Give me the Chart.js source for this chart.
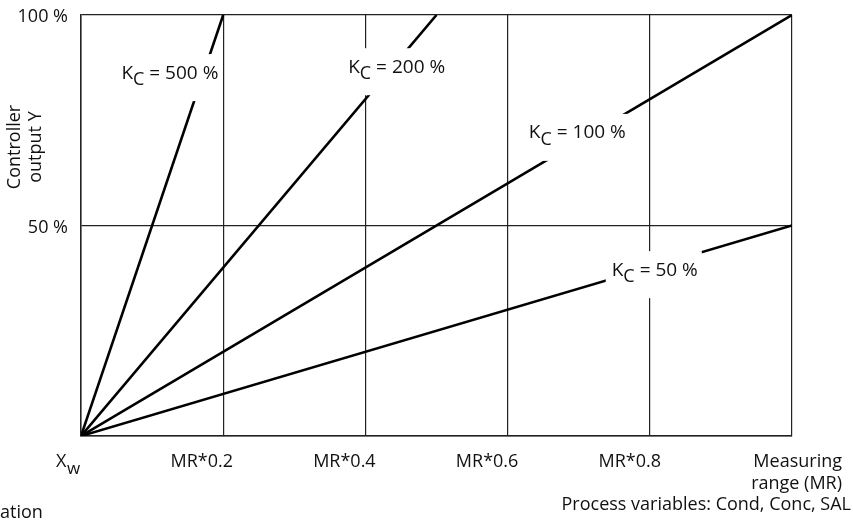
<!DOCTYPE html>
<html lang="en">
<head>
    <meta charset="UTF-8">
    <title>Controller output Y</title>
    <script src="https://cdn.jsdelivr.net/npm/chart.js"></script>
    <style>
        html, body { margin: 0; padding: 0; background: #fff; }
        #wrap { width: 853px; height: 526px; position: relative; }
    </style>
</head>
<body>
    <div id="wrap"><canvas id="ctrlChart"></canvas></div>

    <script>
        // data
        const gains = ["500", "200", "100", "50"];          // K_C in %
        const xStart = [0, 0, 0, 0];                        // X_w
        const xEnd = [0.2, 0.5, 1.0, 1.0];                  // fraction of MR
        const yEnd = [100, 100, 100, 50];                   // controller output %
        const xTicks = [0, 0.2, 0.4, 0.6, 0.8, 1.0];
        const xTickLabels = ["X", "MR*0.2", "MR*0.4", "MR*0.6", "MR*0.8", "Measuring"];
        const yTicks = [0, 50, 100];
        const yTickLabels = ["", "50 %", "100 %"];
        // label anchors (data coords) for each K_C line
        const labelX = [0.125, 0.444, 0.698, 0.807];
        const labelY = [86.2, 87.6, 72, 39.4];

        const FONT = "'Open Sans', 'Noto Sans', sans-serif";

        const datasets = gains.map((g, i) => ({
            label: "K_C = " + g + " %",
            data: [{ x: xStart[i], y: 0 }, { x: xEnd[i], y: yEnd[i] }],
            showLine: true,
            borderColor: "#000",
            borderWidth: 2.6,
            pointRadius: 0,
            fill: false
        }));

        const textPlugin = {
            id: "textPlugin",
            afterDatasetsDraw(chart) {
                const ctx = chart.ctx;
                const xs = chart.scales.x, ys = chart.scales.y;
                ctx.save();
                ctx.fillStyle = "#111";

                // line labels on white boxes
                gains.forEach((g, i) => {
                    const cx = xs.getPixelForValue(labelX[i]);
                    const cy = ys.getPixelForValue(labelY[i]);
                    ctx.font = "19px " + FONT;
                    const wK = ctx.measureText("K").width;
                    ctx.font = "18px " + FONT;
                    const wC = ctx.measureText("C").width;
                    ctx.font = "19px " + FONT;
                    const rest = " = " + g + " %";
                    const wR = ctx.measureText(rest).width;
                    const w = wK + wC + wR;
                    const left = cx - w / 2;
                    const padR = i === 2 ? 20 : 4;
                    ctx.fillStyle = "#fff";
                    ctx.fillRect(left - 6, cy - 19, w + 6 + padR, 47);
                    ctx.fillStyle = "#111";
                    ctx.textBaseline = "middle";
                    ctx.textAlign = "left";
                    ctx.fillText("K", left, cy);
                    ctx.font = "18px " + FONT;
                    ctx.fillText("C", left + wK, cy + 7);
                    ctx.font = "19px " + FONT;
                    ctx.fillText(rest, left + wK + wC, cy);
                });

                // y tick labels
                ctx.font = "18px " + FONT;
                ctx.textAlign = "right";
                ctx.textBaseline = "middle";
                yTicks.forEach((v, i) => {
                    if (yTickLabels[i]) ctx.fillText(yTickLabels[i], 68, ys.getPixelForValue(v) + 2);
                });

                // x tick labels
                ctx.textAlign = "center";
                const ty = 462;
                xTicks.forEach((v, i) => {
                    const px = xs.getPixelForValue(v);
                    if (i === 0) {
                        ctx.textAlign = "left";
                        ctx.fillText("X", 56, ty);
                        ctx.font = "17px " + FONT;
                        ctx.fillText("w", 67, ty + 7);
                        ctx.font = "18px " + FONT;
                        ctx.textAlign = "center";
                    } else if (i === xTicks.length - 1) {
                        ctx.textAlign = "right";
                        ctx.fillText(xTickLabels[i], 842, ty);
                        ctx.fillText("range (MR)", 842, ty + 22);
                        ctx.fillText("Process variables: Cond, Conc, SAL", 851, ty + 43);
                        ctx.textAlign = "center";
                    } else {
                        ctx.fillText(xTickLabels[i], px - 22 + i * 0.5, ty);
                    }
                });

                // cut-off caption at bottom left
                ctx.textAlign = "left";
                ctx.fillText("ation", 0, 513);

                // y axis title
                ctx.save();
                ctx.translate(15, 147);
                ctx.rotate(-Math.PI / 2);
                ctx.textAlign = "center";
                ctx.textBaseline = "middle";
                ctx.fillText("Controller", 0, 0);
                ctx.fillText("output Y", 0, 21);
                ctx.restore();

                ctx.restore();
            }
        };

        new Chart(document.getElementById("ctrlChart"), {
            type: "scatter",
            data: { datasets: datasets },
            options: {
                responsive: true,
                maintainAspectRatio: false,
                animation: false,
                layout: { padding: { left: 81, right: 61, top: 15, bottom: 90 } },
                plugins: { legend: { display: false }, tooltip: { enabled: false } },
                scales: {
                    x: {
                        type: "linear",
                        min: 0, max: 1,
                        afterBuildTicks: s => { s.ticks = xTicks.map(v => ({ value: v })); },
                        ticks: { display: false },
                        grid: { color: "#222", lineWidth: 1.2, drawTicks: false },
                        border: { color: "#222", width: 1.5 }
                    },
                    y: {
                        min: 0, max: 100,
                        afterBuildTicks: s => { s.ticks = yTicks.map(v => ({ value: v })); },
                        ticks: { display: false },
                        grid: { color: "#222", lineWidth: 1.2, drawTicks: false },
                        border: { color: "#222", width: 1.5 }
                    }
                }
            },
            plugins: [textPlugin]
        });
    </script>
</body>
</html>
